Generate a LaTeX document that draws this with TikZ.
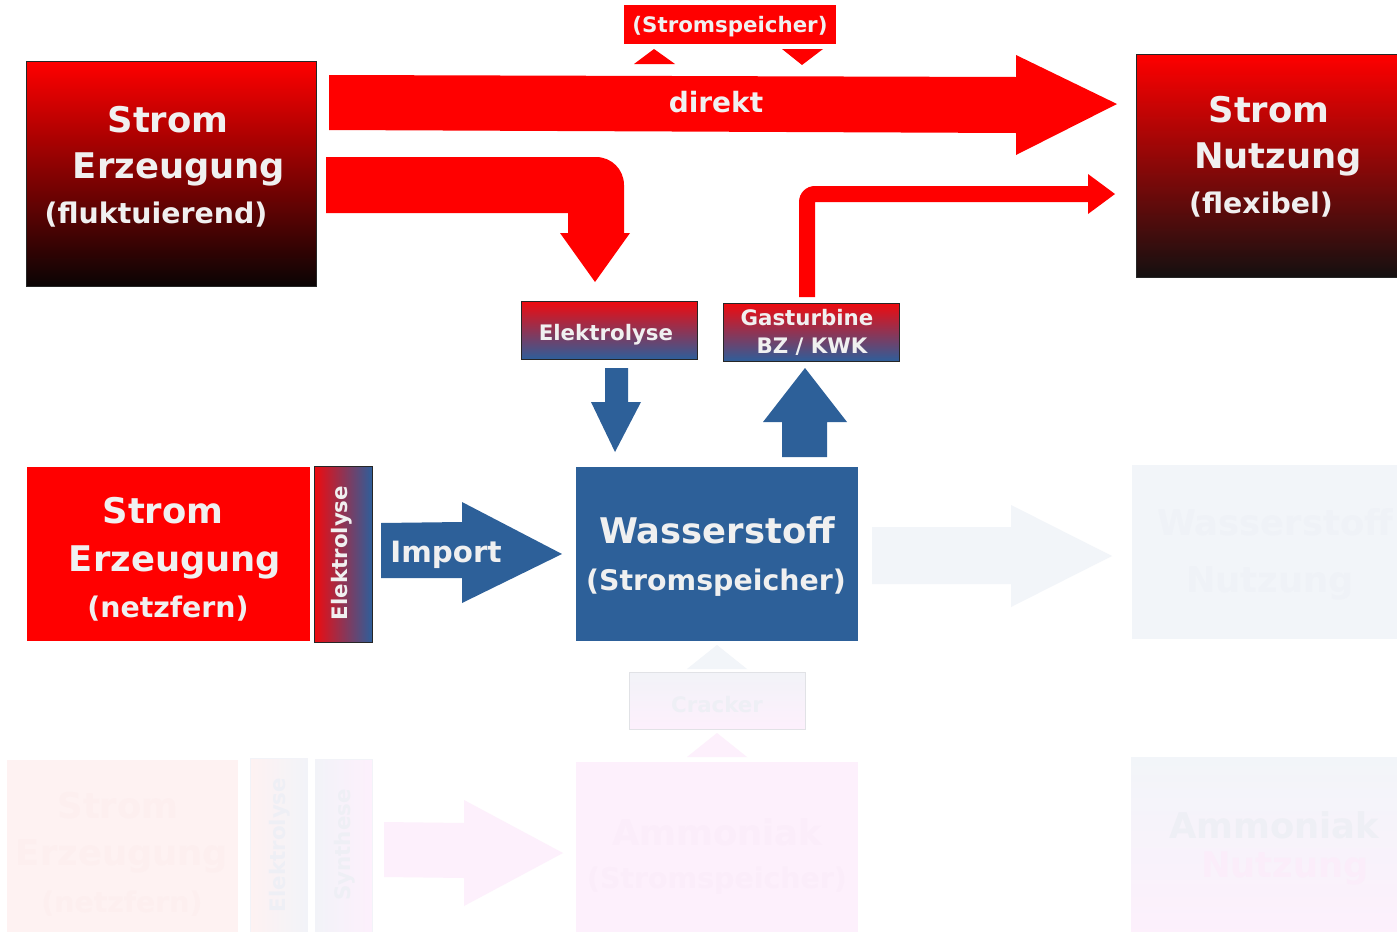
\documentclass[tikz,border=0pt]{standalone}
\usepackage{fontspec}
\setmainfont{DejaVu Sans}
\definecolor{hred}{RGB}{255,0,0}
\definecolor{hblue}{RGB}{45,96,153}
\definecolor{txt}{RGB}{240,240,240}
\definecolor{darkA}{RGB}{10,4,4}
\definecolor{darkB}{RGB}{20,16,16}
\definecolor{ebTop}{RGB}{240,10,14}
\definecolor{ebBot}{RGB}{46,94,154}
\definecolor{gBlue}{RGB}{242,245,249}
\definecolor{gBlueT}{RGB}{239,242,247}
\definecolor{gPink}{RGB}{253,240,252}
\definecolor{gPinkT}{RGB}{251,237,250}
\definecolor{gRed}{RGB}{254,242,242}
\definecolor{gRedT}{RGB}{253,239,239}
\definecolor{gGray}{RGB}{242,243,248}
\definecolor{gGrayT}{RGB}{238,239,245}
\newdimen\px \px=0.75pt
\newcommand\fBig{\fontsize{26.5}{30}\selectfont}
\newcommand\fMid{\fontsize{21.3}{25}\selectfont}
\newcommand\fDir{\fontsize{21}{25}\selectfont}
\newcommand\fImp{\fontsize{22}{26}\selectfont}
\newcommand\fSm{\fontsize{16}{19}\selectfont}
\tikzset{
  every node/.style={inner sep=0pt, outer sep=0pt},
  box/.style 2 args={anchor=north west, minimum width={#1*\px}, minimum height={#2*\px}},
  lbl/.style={text=txt, anchor=base, font=\bfseries},
  ghost/.style={anchor=base, font=\bfseries},
  thinborder/.style={draw=black!85, line width=0.75pt},
}
\begin{document}
\begin{tikzpicture}[x=0.75pt, y=-0.75pt]
\fill[white] (0,0) rectangle (1397,932);
\useasboundingbox (0,0) rectangle (1397,932);
\clip (0,0) rectangle (1397,932);

% ---------------- ghost (faded) elements ----------------
\fill[gBlue] (872,527) -- (1011,527) -- (1011,505) -- (1112,556) -- (1011,607) -- (1011,584) -- (872,584) -- cycle;
\node[box={270}{174}, fill=gBlue] (ghWN) at (1132,465) {};
\node[ghost, text=gBlueT, font=\bfseries\fBig] (ghWNa) at (1275,535) {Wasserstoff};
\node[ghost, text=gBlueT, font=\bfseries\fBig] (ghWNb) at (1270,592) {Nutzung};

\fill[gBlue] (687,669) -- (717,645) -- (747,669) -- cycle;
\node[box={176}{57}, top color=gGray, bottom color=gPink, draw=gGray!85!gray] (ghCr) at (629,672) {};
\node[ghost, text=gGrayT, font=\bfseries\fSm] (ghCrT) at (717,712) {Cracker};
\fill[gPink] (687,757) -- (717,733) -- (747,757) -- cycle;

\node[box={282}{175}, fill=gPink] (ghAm) at (576,762) {};
\node[ghost, text=gPinkT, font=\bfseries\fBig] (ghAmA) at (717,845) {Ammoniak};
\node[ghost, text=gPinkT, font=\bfseries\fMid] (ghAmB) at (717,888) {(Stromspeicher)};

\node[box={231}{175}, fill=gRed] (ghGen) at (7,760) {};
\node[ghost, text=gRedT, font=\bfseries\fBig] (ghGenA) at (118,818) {Strom};
\node[ghost, text=gRedT, font=\bfseries\fBig] (ghGenB) at (122,865) {Erzeugung};
\node[ghost, text=gRedT, font=\bfseries\fMid] (ghGenC) at (122,912) {(netzfern)};

\node[box={57}{176}, left color=gRed, right color=gGray, draw=gGray] (ghEl) at (250,758) {};
\node[ghost, text=gGrayT, rotate=90, font=\bfseries\fSm] (ghElT) at (285,845) {Elektrolyse};
\node[box={57}{175}, left color=gGray, right color=gPink, draw=gGray] (ghSy) at (315,759) {};
\node[ghost, text=gGrayT, rotate=90, font=\bfseries\fSm] (ghSyT) at (350,845) {Synthese};

\fill[gPink] (384,822) -- (464,823) -- (464,800) -- (563,853) -- (464,906) -- (464,878) -- (384,877) -- cycle;

\node[box={270}{180}, top color=gBlue, bottom color=gPink] (ghAN) at (1131,757) {};
\node[ghost, text=gGrayT, font=\bfseries\fBig] (ghANa) at (1274,838) {Ammoniak};
\node[ghost, text=gPinkT, font=\bfseries\fBig] (ghANb) at (1285,877) {Nutzung};

% ---------------- main elements ----------------
% top-left generation box
\node[box={290}{225}, top color=hred, bottom color=darkA, thinborder] (gen) at (26,61) {};
\node[lbl, font=\bfseries\fBig] (genA) at (168,132) {Strom};
\node[lbl, font=\bfseries\fBig] (genB) at (179,178) {Erzeugung};
\node[lbl, font=\bfseries\fMid] (genC) at (156,223) {(fluktuierend)};

% top-right usage box
\node[box={270}{223}, top color=hred, bottom color=darkB, thinborder] (use) at (1136,54) {};
\node[lbl, font=\bfseries\fBig] (useA) at (1269,122) {Strom};
\node[lbl, font=\bfseries\fBig] (useB) at (1278,168) {Nutzung};
\node[lbl, font=\bfseries\fMid] (useC) at (1261,213) {(flexibel)};

% direct arrow
\fill[hred] (329,75) -- (1016,77) -- (1016,55) -- (1117,104) -- (1016,155) -- (1016,133) -- (329,130) -- cycle;
\node[lbl, font=\bfseries\fDir] (direkt) at (716,112) {direkt};

% (Stromspeicher) label with small triangles
\node[box={212}{39}, fill=hred] (spbox) at (624,5) {};
\node[lbl, font=\bfseries\fSm] (spT) at (730,32) {(Stromspeicher)};
\fill[hred] (634,64) -- (654,49) -- (675,64) -- cycle;
\fill[hred] (782,49) -- (823,49) -- (802,65) -- cycle;

% bent arrow to Elektrolyse
\fill[hred] (326,157) -- (596,157) .. controls (611.5,157) and (624,169.5) .. (624,185)
  -- (624,233) -- (630,233) -- (595,282) -- (560,233) -- (568,233) -- (568,213) -- (326,213) -- cycle;

% Elektrolyse box
\node[box={176}{58}, top color=ebTop, bottom color=ebBot, thinborder] (elek) at (521,301) {};
\node[lbl, font=\bfseries\fSm] (elekT) at (606,340) {Elektrolyse};

% Gasturbine box
\node[box={176}{58}, top color=ebTop, bottom color=ebBot, thinborder] (gas) at (723,303) {};
\node[lbl, font=\bfseries\fSm] (gasA) at (807,325) {Gasturbine};
\node[lbl, font=\bfseries\fSm] (gasB) at (812,353) {BZ / KWK};

% bent arrow Gasturbine -> Strom Nutzung
\fill[hred] (799,297) -- (799,202) .. controls (799,193) and (806,186) .. (815,186)
  -- (1088,186) -- (1088,174) -- (1115,194) -- (1088,214) -- (1088,202) -- (815,202) -- (815,297) -- cycle;

% blue arrows
\fill[hblue] (605,368) -- (628,368) -- (628,402) -- (641,402) -- (615,452) -- (591,402) -- (605,402) -- cycle;
\fill[hblue] (805,368) -- (847,422) -- (827,422) -- (827,457) -- (782,457) -- (782,422) -- (763,422) -- cycle;

% Wasserstoff box
\node[box={282}{174}, fill=hblue] (h2) at (576,467) {};
\node[lbl, font=\bfseries\fBig] (h2A) at (717,543) {Wasserstoff};
\node[lbl, font=\bfseries\fMid] (h2B) at (716,590) {(Stromspeicher)};

% netzfern box
\node[box={283}{174}, fill=hred] (nf) at (27,467) {};
\node[lbl, font=\bfseries\fBig] (nfA) at (163,523) {Strom};
\node[lbl, font=\bfseries\fBig] (nfB) at (175,571) {Erzeugung};
\node[lbl, font=\bfseries\fMid] (nfC) at (168,617) {(netzfern)};

% vertical Elektrolyse
\node[box={58}{176}, left color=ebTop, right color=ebBot, thinborder] (elv) at (314,466) {};
\node[lbl, rotate=90, font=\bfseries\fSm] (elvT) at (347,553) {Elektrolyse};

% Import arrow
\fill[hblue] (381,523) -- (462,522) -- (462,502) -- (562,554) -- (462,603) -- (462,578) -- (381,578) -- cycle;
\node[lbl, font=\bfseries\fImp] (imp) at (446,562) {Import};
\end{tikzpicture}
\end{document}
